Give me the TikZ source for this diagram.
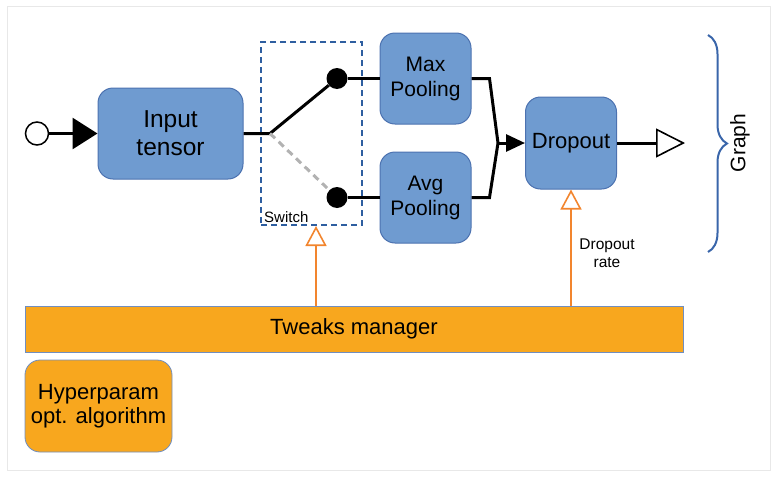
\documentclass[tikz,border=0pt]{standalone}
\usepackage{fontspec}
\setmainfont{Liberation Sans}
\usetikzlibrary{arrows.meta,decorations.pathreplacing,calc}
\definecolor{bfill}{RGB}{111,155,208}
\definecolor{bdraw}{RGB}{76,114,176}
\definecolor{ofill}{RGB}{248,167,30}
\definecolor{oline}{RGB}{242,133,46}
\definecolor{swblue}{RGB}{46,94,160}
\definecolor{brblue}{RGB}{58,102,170}
\definecolor{framegray}{RGB}{232,232,232}
\definecolor{dgray}{RGB}{178,178,178}
\newcommand\fs[2]{\fontsize{#1}{#2}\selectfont}
\begin{document}
\begin{tikzpicture}[x=1pt,y=-1pt,
 bbox/.style={draw=bdraw, fill=bfill, rounded corners=15pt, line width=1pt, inner sep=0pt, align=center},
 obox/.style={draw=bdraw!80, fill=ofill, line width=0.8pt, inner sep=0pt, align=center},
 wire/.style={line width=3pt, draw=black},
 oarr/.style={line width=2pt, draw=oline, -{Triangle[length=20pt,width=21pt,fill=white,line width=1.6pt]}},
 dotnode/.style={circle, fill=black, minimum size=21pt, inner sep=0pt},
]
\useasboundingbox (0,0) rectangle (779,479);
\draw[framegray, line width=1pt] (7,6) rectangle (770,470);

% switch box
\node[draw=swblue, dash pattern=on 6pt off 4pt, line width=2pt, minimum width=101pt, minimum height=183pt, inner sep=0pt] (sw) at (311.5,133.5) {};
\node[anchor=base west, font=\fs{15}{17}, inner sep=0pt] (swl) at (264,222) {Switch};

% nodes
\node[circle, draw=black, fill=white, line width=1.5pt, minimum size=23pt, inner sep=0pt] (start) at (37,133.5) {};
\node[bbox, minimum width=145pt, minimum height=91pt, font=\fs{24.5}{28}] (inp) at (170.5,133.5) {Input\\tensor};
\coordinate (j) at (270,133.5);
\node[dotnode] (d1) at (337,78.5) {};
\node[dotnode] (d2) at (337,197.5) {};
\node[bbox, minimum width=91pt, minimum height=91pt, font=\fs{21}{25}] (mx) at (425.5,78.5) {Max\\Pooling};
\node[bbox, minimum width=91pt, minimum height=91pt, font=\fs{21}{25}] (av) at (425.5,197.5) {Avg\\Pooling};
\coordinate (m) at (498,143);
\node[bbox, minimum width=91pt, minimum height=92pt, font=\fs{22}{25}] (dp) at (571,143) {Dropout};
\coordinate (out) at (685,143);

\node[obox, minimum width=658pt, minimum height=46pt, font=\fs{22}{25}] (tw) at (354,329) {Tweaks manager};
\node[obox, rounded corners=15pt, minimum width=147pt, minimum height=92pt, font=\fs{22}{24.5}] (hp) at (98.5,406) {Hyperparam\\opt. algorithm};

% connectors
\draw[wire, -{Triangle[length=25pt,width=31pt]}] (start) -- (inp);
\draw[wire] (inp.east) -- (j) -- (d1);
\draw[line width=3pt, draw=dgray, dash pattern=on 7pt off 5pt] (j) -- (d2);
\draw[wire] (d1) -- (mx);
\draw[wire] (d2) -- (av);
\draw[wire, line join=miter] (mx.east) -- ++(18,0) -- (m);
\draw[wire, line join=miter] (av.east) -- ++(18,0) -- (m);
\draw[wire, -{Triangle[length=19pt,width=17pt]}] (m) -- (dp);
\draw[wire, -{Triangle[length=29pt,width=29pt,fill=white,line width=1.6pt]}] (dp) -- (out);

\draw[oarr] ([xshift=4.5pt]sw.south |- tw.north) -- ([xshift=4.5pt]sw.south);
\draw[oarr] (dp.south |- tw.north) -- (dp.south);
\node[font=\fs{15.5}{17.5}, align=center, inner sep=0pt] (drl) at (607,253) {Dropout\\rate};

% graph brace
\coordinate (gt) at (708,35);
\coordinate (gb) at (708,252);
\draw[brblue, line width=2pt, decorate, decoration={brace, amplitude=19pt}] (gt) -- (gb);
\node[rotate=90, font=\fs{21}{24}, inner sep=0pt] (gl) at (740,143) {Graph};
\end{tikzpicture}
\end{document}
